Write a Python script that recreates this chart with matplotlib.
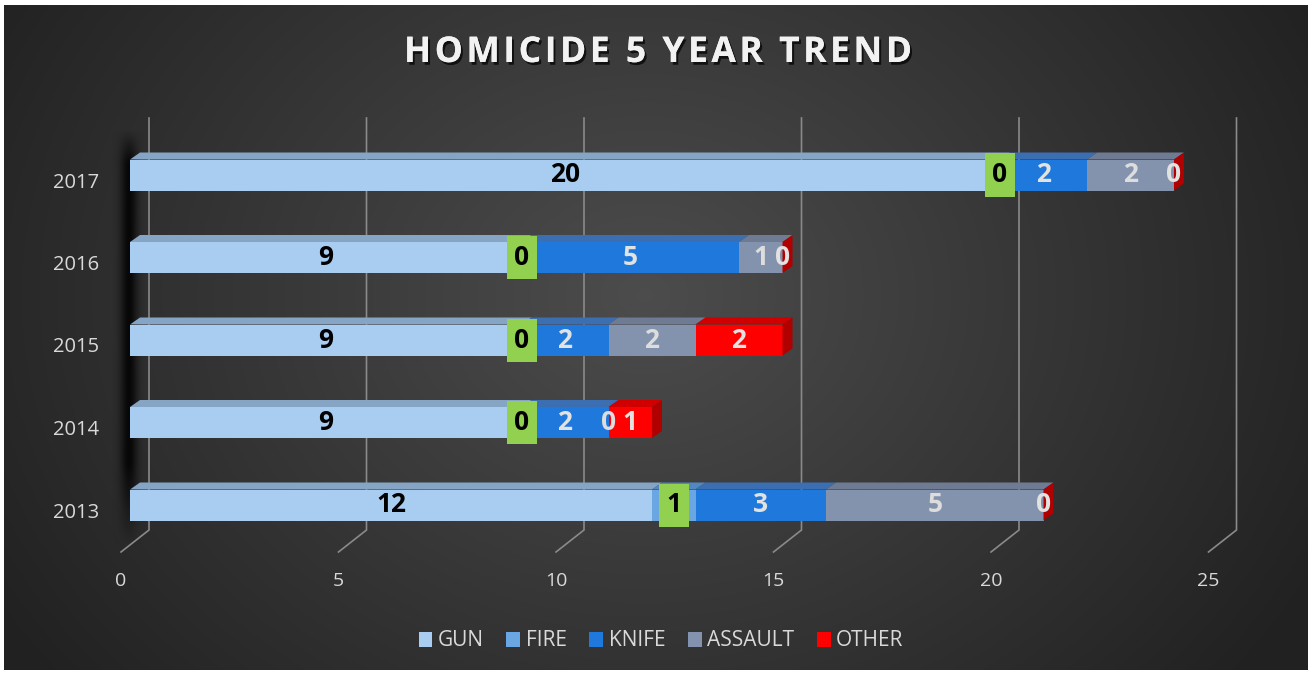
import numpy as np
import matplotlib.pyplot as plt
import matplotlib.patheffects as pe
from matplotlib.patches import Polygon, Rectangle, Patch

plt.rcParams['font.family'] = ['Open Sans', 'DejaVu Sans']

years = ["2013", "2014", "2015", "2016", "2017"]
series = ["GUN", "FIRE", "KNIFE", "ASSAULT", "OTHER"]
gun = [12, 9, 9, 9, 20]
fire = [1, 0, 0, 0, 0]
knife = [3, 2, 2, 5, 2]
assault = [5, 0, 2, 1, 2]
other = [0, 1, 2, 0, 0]
x_ticks = [0, 5, 10, 15, 20, 25]
title = "HOMICIDE 5 YEAR TREND"

front_cols = ["#A9CDF1", "#6AA6E2", "#1F78DC", "#8493AD", "#FF0000"]
top_cols = ["#86A4C4", "#5288C2", "#3B6FB2", "#6E7B92", "#D00000"]
cap_col = "#B00000"
lab_cols = ["black", "black", "#E2E2E2", "#DDDDDD", "#E2E2E2"]
grid_col = "#8A8A8A"
text_col = "#D9D9D9"

W, H = 1312, 675
fig = plt.figure(figsize=(W / 100, H / 100), dpi=100, facecolor="white")

# dark radial background
bg = fig.add_axes([4 / W, 5 / H, 1304 / W, 665 / H])
bg.axis("off")
yy, xx = np.mgrid[0:665, 0:1304]
d = np.sqrt(((xx - 640) / 760.0) ** 2 + ((yy - 290) / 620.0) ** 2)
shade = 0.30 - 0.17 * np.clip(d, 0, 1)
bg.imshow(np.dstack([shade] * 3), aspect="auto", interpolation="bilinear")

# pixel layout of the plot area
X0, XS = 130, 43.5
Y0, YS = 505, 82.5
xlim = (-0.7, 25.7)
ylim = (-1.3, 5.0)
lpx, rpx = X0 + xlim[0] * XS, X0 + xlim[1] * XS
tpx, bpx = Y0 - ylim[1] * YS, Y0 - ylim[0] * YS
ax = fig.add_axes([lpx / W, 1 - bpx / H, (rpx - lpx) / W, (bpx - tpx) / H])
ax.axis("off")
ax.patch.set_alpha(0)

DX, DY = 10 / XS, 7 / YS      # bar depth
WX, FX = 19 / XS, -9 / XS     # back wall / floor front offsets
bar_h = 31 / YS

# gridlines: back wall + floor
y_top, y_bend, y_end = (Y0 - 118) / YS, (Y0 - 530) / YS, (Y0 - 552) / YS
for v in x_ticks:
    ax.plot([v + WX, v + WX, v + FX], [y_top, y_bend, y_end], color=grid_col,
            lw=1.2, zorder=2, solid_joinstyle="miter")
    ax.text(v + FX, (Y0 - 581.5) / YS, str(v), ha="center", va="center",
            fontsize=14, color=text_col)

# soft dark shadow strip on the left wall
gx = np.linspace(112, 150, 80)
gy = np.linspace(0, 1, 120)
ax_a = np.exp(-((gx - 129) / 8.5) ** 2)
ay = np.clip(gy / 0.2, 0, 1) * np.clip((1 - gy) / 0.08, 0, 1)
strip = np.zeros((gy.size, gx.size, 4))
strip[:, :, 3] = 0.85 * np.outer(ay, ax_a)
ax.imshow(strip, extent=[(112 - X0) / XS, (150 - X0) / XS, (Y0 - 548) / YS, (Y0 - 128) / YS],
          origin="lower", aspect="auto", zorder=1, interpolation="bilinear")

data = [gun, fire, knife, assault, other]
for i, yr in enumerate(years):
    left = 0
    lo, hi = i - bar_h / 2, i + bar_h / 2
    for s in range(len(series)):
        w = data[s][i]
        ax.add_patch(Rectangle((left, lo), w, bar_h, facecolor=front_cols[s],
                               edgecolor="none", zorder=4))
        ax.add_patch(Polygon([(left, hi), (left + w, hi), (left + w + DX, hi + DY),
                              (left + DX, hi + DY)], closed=True,
                             facecolor=top_cols[s], edgecolor="none", zorder=4))
        cx = left + w / 2
        if s == 1:
            ax.add_patch(Rectangle((cx - 15 / XS, i - 21.5 / YS), 30 / XS, 43 / YS,
                                   facecolor="#92D050", edgecolor="none", zorder=6))
        ax.text(cx, i, str(w), ha="center", va="center", fontsize=19,
                fontweight="bold", color=lab_cols[s], zorder=7)
        left += w
    ax.add_patch(Polygon([(left, lo), (left, hi), (left + DX, hi + DY), (left + DX, lo + DY)],
                         closed=True, facecolor=cap_col, edgecolor="none", zorder=5))
    ax.text((99 - X0) / XS, i - 7.5 / YS, yr, ha="right", va="center",
            fontsize=14.5, color=text_col)

ax.set_xlim(*xlim)
ax.set_ylim(*ylim)

fig.text(657 / W, 1 - 53 / H, "\u200a".join(title), ha="center", va="center",
         fontsize=25.5, fontweight="bold", color="#F2F2F2",
         path_effects=[pe.withSimplePatchShadow(offset=(1.5, -2), shadow_rgbFace="black", alpha=0.7),
                       pe.Normal()])

handles = [Patch(facecolor=c, edgecolor="none", label=n) for c, n in zip(front_cols, series)]
fig.legend(handles=handles, loc="center", bbox_to_anchor=(661 / W, 1 - 641 / H), ncol=5,
           frameon=False, fontsize=15, labelcolor=text_col, handlelength=0.67,
           handleheight=0.72, handletextpad=0.26, columnspacing=1.08)

fig.savefig("out.png", dpi=100, facecolor="white")
